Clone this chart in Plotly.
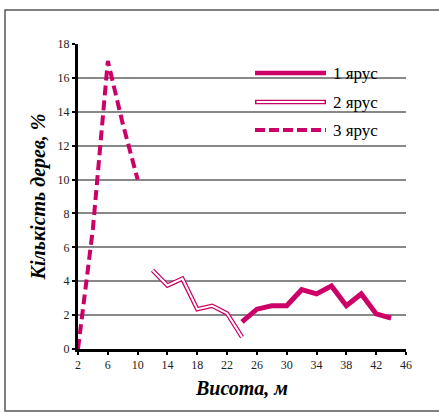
import plotly.graph_objects as go

# Data
heights_1 = [24, 26, 28, 30, 32, 34, 36, 38, 40, 42, 44]
values_1 = [1.6, 2.35, 2.55, 2.55, 3.5, 3.25, 3.72, 2.55, 3.25, 2.07, 1.82]

heights_2 = [12, 14, 16, 18, 20, 22, 24]
values_2 = [4.65, 3.75, 4.15, 2.35, 2.55, 2.1, 0.7]

heights_3 = [2, 4, 6, 8, 10]
values_3 = [0.0, 7.1, 17.0, 13.3, 10.0]

legend_names = ["1 ярус", "2 ярус", "3 ярус"]
x_title = "Висота, м"
y_title = "Кількість дерев, %"

COLOR = "#CC0066"
SERIF = "Liberation Serif"
W, H = 439, 412
ML, MR, MT, MB = 78, 33, 44, 63
PW, PH = W - ML - MR, H - MT - MB


def px(xp):
    return (xp - ML) / PW


def py(yp):
    return (H - MB - yp) / PH


fig = go.Figure()

# 3 ярус (dashed)
fig.add_trace(go.Scatter(x=heights_3, y=values_3, mode="lines", name=legend_names[2],
                         line=dict(color=COLOR, width=4, dash="10px,5px"),
                         showlegend=False))
# 2 ярус (double line: thick colored + thin white)
fig.add_trace(go.Scatter(x=heights_2, y=values_2, mode="lines", name=legend_names[1],
                         line=dict(color=COLOR, width=4.5), showlegend=False))
fig.add_trace(go.Scatter(x=heights_2, y=values_2, mode="lines", name=legend_names[1],
                         line=dict(color="white", width=2), showlegend=False,
                         hoverinfo="skip"))
# 1 ярус (solid thick)
fig.add_trace(go.Scatter(x=heights_1, y=values_1, mode="lines", name=legend_names[0],
                         line=dict(color=COLOR, width=5), showlegend=False))

shapes = []
# outer chart border
shapes.append(dict(type="rect", xref="paper", yref="paper",
                   x0=px(5), x1=px(445), y0=py(411), y1=py(10),
                   line=dict(color="#555555", width=1.5), layer="below"))
# legend background
shapes.append(dict(type="rect", xref="paper", yref="paper",
                   x0=px(237), x1=px(397), y0=py(146), y1=py(62),
                   fillcolor="white", line=dict(width=0), layer="between"))

annotations = []
leg_y = [73, 102, 130]
for i, name in enumerate(legend_names):
    yy = py(leg_y[i])
    if i == 0:
        shapes.append(dict(type="line", xref="paper", yref="paper", x0=px(255), x1=px(326),
                           y0=yy, y1=yy, line=dict(color=COLOR, width=4.5)))
    elif i == 1:
        shapes.append(dict(type="line", xref="paper", yref="paper", x0=px(255), x1=px(326),
                           y0=yy, y1=yy, line=dict(color=COLOR, width=4.5)))
        shapes.append(dict(type="line", xref="paper", yref="paper", x0=px(256.5), x1=px(324.5),
                           y0=yy, y1=yy, line=dict(color="white", width=2)))
    else:
        shapes.append(dict(type="line", xref="paper", yref="paper", x0=px(255), x1=px(326),
                           y0=yy, y1=yy, line=dict(color=COLOR, width=4, dash="10px,4px")))
    annotations.append(dict(xref="paper", yref="paper", x=px(331), y=yy, text=name,
                            showarrow=False, xanchor="left", yanchor="middle",
                            font=dict(family=SERIF, size=17, color="black")))

fig.update_layout(
    width=W, height=H,
    margin=dict(l=ML, r=MR, t=MT, b=MB, pad=0),
    paper_bgcolor="white", plot_bgcolor="white",
    showlegend=False,
    shapes=shapes, annotations=annotations,
    font=dict(family=SERIF, color="black"),
    xaxis=dict(range=[2, 46], tick0=2, dtick=4, showgrid=False, zeroline=False,
               showline=True, linecolor="black", linewidth=3,
               ticks="outside", ticklen=3, tickwidth=2, tickcolor="black",
               tickfont=dict(family=SERIF, size=12, color="#222222"),
               title=dict(text=x_title, standoff=10,
                          font=dict(size=20, color="black", family=SERIF,
                                    weight="bold", style="italic"))),
    yaxis=dict(range=[0, 18], tick0=0, dtick=2, showgrid=True, gridcolor="#888888",
               gridwidth=1.5, zeroline=False,
               showline=True, linecolor="black", linewidth=3,
               ticks="outside", ticklen=3, tickwidth=2, tickcolor="black",
               tickfont=dict(family=SERIF, size=12, color="#222222"),
               title=dict(text=y_title, standoff=7,
                          font=dict(size=20, color="black", family=SERIF,
                                    weight="bold", style="italic"))),
)

fig.write_html("out.html", config={"displayModeBar": False},
               post_script="document.body.style.margin='0';")
